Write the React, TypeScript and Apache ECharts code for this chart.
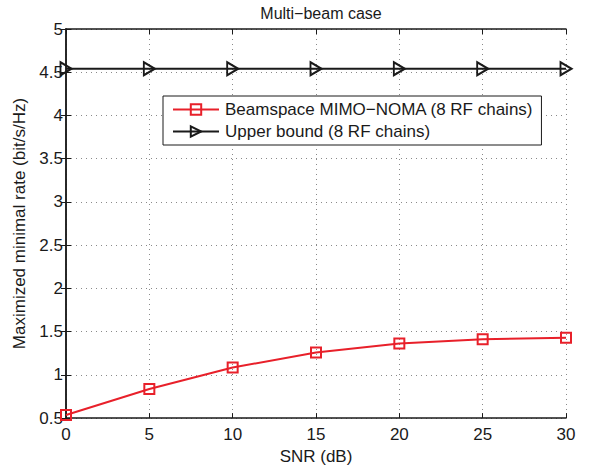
import React, { useEffect, useRef } from "react";
import * as echarts from "echarts";

const snr = [0, 5, 10, 15, 20, 25, 30];
const noma = [0.535, 0.836, 1.085, 1.258, 1.362, 1.412, 1.428];
const upper = [4.54, 4.54, 4.54, 4.54, 4.54, 4.54, 4.54];
const xTicks = [0, 5, 10, 15, 20, 25, 30];

const FONT = "'Liberation Sans', Arial, sans-serif";

export default function App() {
  const ref = useRef<HTMLDivElement>(null);
  useEffect(() => {
    document.body.style.margin = "0";
    const chart = echarts.init(ref.current!, null, { renderer: "svg" });
    const gridLine = { show: true, lineStyle: { color: "#8a8a8a", type: [1, 4] as any, width: 1 } };
    const axisLine = { show: true, lineStyle: { color: "#1a1a1a", width: 1.5 } };
    const tick = { show: true, inside: true, length: 5, lineStyle: { color: "#1a1a1a", width: 1 } };
    const label = { color: "#1a1a1a", fontSize: 17, fontFamily: FONT };
    chart.setOption({
      animation: false,
      backgroundColor: "#fff",
      title: {
        text: "Multi\u2212beam case",
        left: 316,
        textAlign: "center",
        top: 0,
        textStyle: { fontSize: 16, fontWeight: "normal", color: "#1a1a1a", fontFamily: FONT },
      },
      grid: { left: 66, right: 26, top: 29, bottom: 48 },
      legend: {
        orient: "vertical",
        left: 163,
        top: 96,
        width: 369,
        padding: [5, 8, 5, 9],
        itemGap: 5,
        itemWidth: 46,
        itemHeight: 13,
        backgroundColor: "#fff",
        borderColor: "#1a1a1a",
        borderWidth: 1,
        textStyle: { fontSize: 17, color: "#1a1a1a", fontFamily: FONT, padding: [0, 0, 0, 1] },
        data: ["Beamspace MIMO\u2212NOMA (8 RF chains)", "Upper bound (8 RF chains)"],
      },
      xAxis: [
        {
          type: "value",
          min: 0,
          max: 30,
          interval: 5,
          name: "SNR (dB)",
          nameLocation: "middle",
          nameGap: 28,
          nameTextStyle: { fontSize: 17, color: "#1a1a1a", fontFamily: FONT },
          axisLine,
          axisTick: tick,
          axisLabel: { ...label, margin: 8, customValues: xTicks } as any,
          splitLine: gridLine,
        },
        {
          type: "value",
          position: "top",
          min: 0,
          max: 30,
          interval: 5,
          axisLine,
          axisTick: tick,
          axisLabel: { show: false },
          splitLine: { show: false },
        },
      ],
      yAxis: [
        {
          type: "value",
          min: 0.5,
          max: 5,
          interval: 0.5,
          name: "Maximized minimal rate (bit/s/Hz)",
          nameLocation: "middle",
          nameGap: 38,
          nameTextStyle: { fontSize: 17, color: "#1a1a1a", fontFamily: FONT },
          axisLine,
          axisTick: tick,
          axisLabel: { ...label, margin: 3, formatter: (v: number) => String(v) },
          splitLine: gridLine,
        },
        {
          type: "value",
          position: "right",
          min: 0.5,
          max: 5,
          interval: 0.5,
          axisLine,
          axisTick: tick,
          axisLabel: { show: false },
          splitLine: { show: false },
        },
      ],
      series: [
        {
          name: "Beamspace MIMO\u2212NOMA (8 RF chains)",
          type: "line",
          data: snr.map((x, i) => [x, noma[i]]),
          symbol: "path://M0,0L10,0L10,10L0,10Z",
          symbolSize: 10,
          lineStyle: { color: "#e8202a", width: 2 },
          itemStyle: { color: "rgba(0,0,0,0)", borderColor: "#e8202a", borderWidth: 2 },
          z: 3,
        },
        {
          name: "Upper bound (8 RF chains)",
          type: "line",
          data: snr.map((x, i) => [x, upper[i]]),
          symbol: "path://M0,0L10,5L0,10Z",
          symbolSize: [11, 13],
          lineStyle: { color: "#1a1a1a", width: 2 },
          itemStyle: { color: "rgba(0,0,0,0)", borderColor: "#1a1a1a", borderWidth: 2 },
          z: 3,
        },
      ],
    });
    return () => chart.dispose();
  }, []);
  return <div ref={ref} style={{ width: 592, height: 470 }} />;
}
